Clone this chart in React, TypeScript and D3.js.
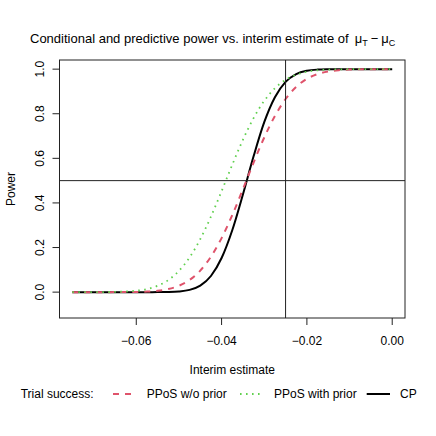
import React from "react";
import * as d3 from "d3";

// interim estimate grid
const estimates = [
  -0.075, -0.0725, -0.07, -0.0675, -0.065, -0.0625, -0.06, -0.0575, -0.055, -0.0525,
  -0.05, -0.0475, -0.045, -0.0425, -0.04, -0.0375, -0.035, -0.0325, -0.03, -0.0275,
  -0.025, -0.0225, -0.02, -0.0175, -0.015, -0.0125, -0.01, -0.0075, -0.005, -0.0025, 0,
];

const cpValues = [
  0, 0, 0, 0, 0, 0, 0, 0, 0.0001, 0.0007,
  0.0029, 0.01, 0.0292, 0.0724, 0.153, 0.2776, 0.438, 0.609, 0.762, 0.874,
  0.943, 0.978, 0.9928, 0.998, 0.9995, 1, 1, 1, 1, 1, 1,
];

const ppNoPrior = [
  0, 0, 0, 0, 0.0001, 0.0003, 0.0009, 0.0025, 0.0061, 0.0137,
  0.0285, 0.0546, 0.0966, 0.1587, 0.2423, 0.3454, 0.4617, 0.581, 0.6936, 0.79,
  0.866, 0.9207, 0.9565, 0.9779, 0.9896, 0.9955, 0.9982, 0.9994, 0.9998, 1, 1,
];

const ppWithPrior = [
  0, 0, 0.0001, 0.0003, 0.001, 0.0026, 0.0062, 0.0139, 0.0284, 0.054,
  0.095, 0.1558, 0.2376, 0.3384, 0.4526, 0.571, 0.683, 0.7805, 0.858, 0.9145,
  0.9522, 0.9752, 0.9882, 0.9948, 0.9979, 0.9992, 0.9997, 1, 1, 1, 1,
];

const xTicks = [-0.06, -0.04, -0.02, 0];
const yTicks = [0, 0.2, 0.4, 0.6, 0.8, 1];
const refEstimate = -0.025;
const refPower = 0.5;

const RED = "#DF536B";
const GREEN = "#61D04F";
const FONT = "Liberation Sans, Arial, sans-serif";

const fmt = (v: number, digits: number) =>
  v.toFixed(digits).replace("-", "\u2212");

export default function App() {
  const left = 59.5,
    right = 405,
    top = 60,
    bottom = 318;

  const x = d3.scaleLinear().domain([-0.078, 0.003]).range([left, right]);
  const y = d3.scaleLinear().domain([-0.116, 1.041]).range([bottom, top]);

  const line = (vals: number[]) =>
    d3
      .line<number>()
      .x((_, i) => x(estimates[i]))
      .y((d) => y(d))
      .curve(d3.curveMonotoneX)(vals) as string;

  return (
    <svg
      width={436}
      height={436}
      style={{ position: "absolute", left: 0, top: 0, background: "white" }}
      fontFamily={FONT}
      fontSize={12}
    >
      <rect width={436} height={436} fill="white" />

      {/* title */}
      <text x={30} y={43} fontSize={13}>
        Conditional and predictive power vs. interim estimate of
        <tspan dx={6}>μ</tspan>
        <tspan fontSize={9} dy={3}>T</tspan>
        <tspan dy={-3} dx={3}>−</tspan>
        <tspan dx={3}>μ</tspan>
        <tspan fontSize={9} dy={3}>C</tspan>
      </text>

      {/* curves */}
      <path d={line(cpValues)} fill="none" stroke="black" strokeWidth={2} />
      <path
        d={line(ppNoPrior)}
        fill="none"
        stroke={RED}
        strokeWidth={2}
        strokeDasharray="6 6"
      />
      <path
        d={line(ppWithPrior)}
        fill="none"
        stroke={GREEN}
        strokeWidth={1.8}
        strokeDasharray="1.6 4.4"
      />

      {/* reference lines */}
      <line x1={left} x2={right} y1={y(refPower)} y2={y(refPower)} stroke="#222" strokeWidth={1} />
      <line x1={x(refEstimate)} x2={x(refEstimate)} y1={top} y2={bottom} stroke="#222" strokeWidth={1} />

      {/* box */}
      <rect x={left} y={top} width={right - left} height={bottom - top} fill="none" stroke="#222" strokeWidth={1} />

      {/* x axis */}
      {xTicks.map((t) => (
        <g key={t}>
          <line x1={x(t)} x2={x(t)} y1={bottom} y2={bottom + 7} stroke="#222" />
          <text x={x(t)} y={345} textAnchor="middle">
            {fmt(t, 2)}
          </text>
        </g>
      ))}
      <text x={(left + right) / 2} y={374} textAnchor="middle">
        Interim estimate
      </text>

      {/* y axis */}
      {yTicks.map((t) => (
        <g key={t}>
          <line x1={left - 7} x2={left} y1={y(t)} y2={y(t)} stroke="#222" />
          <text
            transform={`translate(43.5,${y(t)}) rotate(-90)`}
            textAnchor="middle"
          >
            {fmt(t, 1)}
          </text>
        </g>
      ))}
      <text
        transform={`translate(15,${(top + bottom) / 2}) rotate(-90)`}
        textAnchor="middle"
      >
        Power
      </text>

      {/* legend */}
      <g>
        <text x={20.7} y={398}>Trial success:</text>
        <line x1={113} x2={132} y1={394} y2={394} stroke={RED} strokeWidth={2} strokeDasharray="6 6" />
        <text x={146.7} y={398}>PPoS w/o prior</text>
        <line x1={240} x2={262} y1={394} y2={394} stroke={GREEN} strokeWidth={1.8} strokeDasharray="1.6 4.4" />
        <text x={274} y={398}>PPoS with prior</text>
        <line x1={366.7} x2={390} y1={394} y2={394} stroke="black" strokeWidth={2} />
        <text x={400} y={398}>CP</text>
      </g>
    </svg>
  );
}
